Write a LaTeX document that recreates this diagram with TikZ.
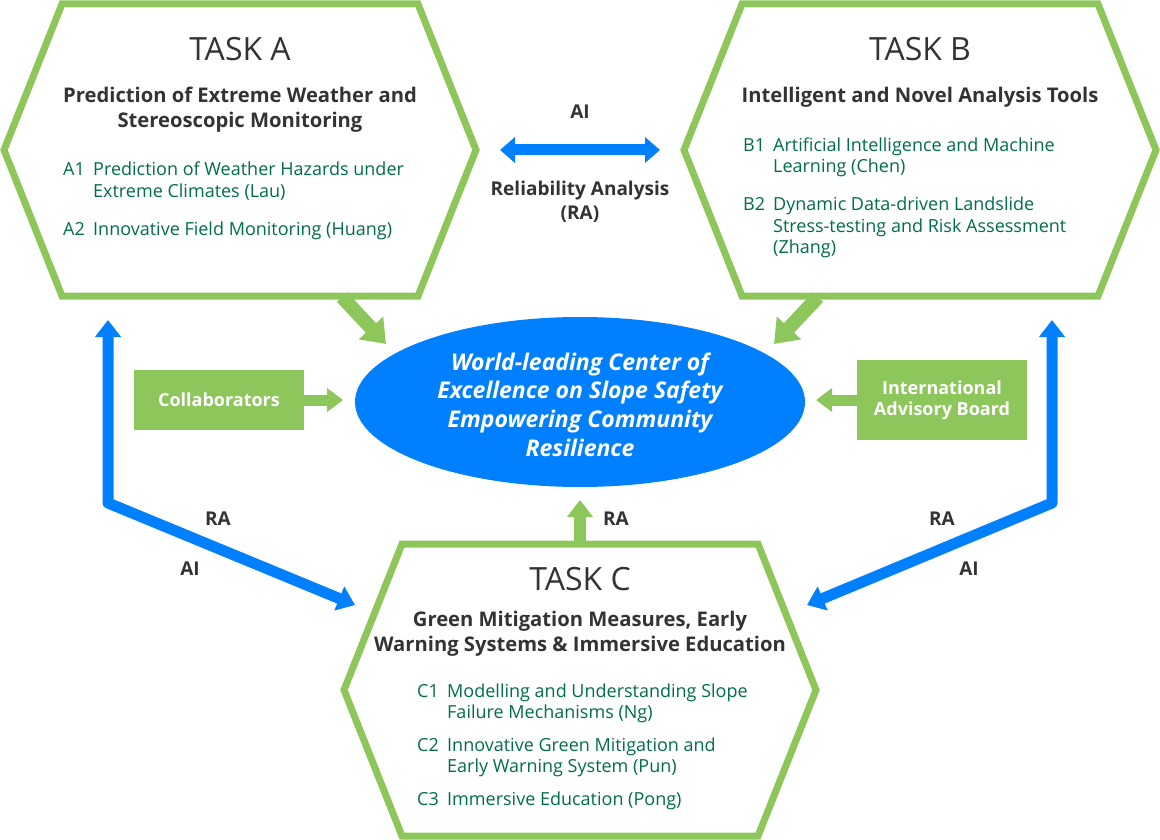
\documentclass[tikz,border=0pt]{standalone}
\usepackage{fontspec}
\setmainfont{Open Sans}
\usetikzlibrary{arrows.meta,shapes.geometric}
\definecolor{hexgreen}{HTML}{8DC65A}
\definecolor{myblue}{HTML}{0080FF}
\definecolor{darktext}{HTML}{333333}
\definecolor{itemgreen}{HTML}{006E47}
\begin{document}
\begin{tikzpicture}[x=1pt,y=-1pt,
  hexline/.style={draw=hexgreen, line width=7pt, line join=miter, miter limit=1.5},
  tasktitle/.style={anchor=base, text=darktext, inner sep=0, font=\fontsize{32}{38}\selectfont},
  subtitle/.style={anchor=base, text=darktext, inner sep=0, font=\bfseries\fontsize{20.2}{25}\selectfont},
  itemlabel/.style={anchor=base west, text=itemgreen, inner sep=0, font=\fontsize{18}{21}\selectfont},
  itemtext/.style={anchor=base west, text=itemgreen, inner sep=0, font=\fontsize{18}{21}\selectfont},
  midlabel/.style={anchor=base, text=darktext, inner sep=0, font=\bfseries\fontsize{19}{23}\selectfont},
  boxtext/.style={anchor=base, text=white, inner sep=0, font=\bfseries\fontsize{18}{21}\selectfont},
  greenbox/.style={fill=hexgreen, draw=none, inner sep=0},
  ellitext/.style={anchor=base, text=white, inner sep=0, font=\bfseries\itshape\fontsize{23}{29}\selectfont},
  bluearrow/.style={draw=myblue, line width=11pt, line join=round, {Triangle[length=17pt,width=25pt]}-{Triangle[length=17pt,width=25pt]}},
  greenarrow/.style={draw=hexgreen, line width=12pt, -{Triangle[length=17pt,width=25pt]}},
  greendiag/.style={draw=hexgreen, line width=14pt, -{Triangle[length=22pt,width=32pt]}}
]
\useasboundingbox (0,0) rectangle (1160,840);

% Hexagons
\draw[hexline] (62,4) -- (418,4) -- (476,150) -- (418,296) -- (62,296) -- (4,150) -- cycle;
\draw[hexline] (742,4) -- (1098,4) -- (1156,150) -- (1098,296) -- (742,296) -- (684,150) -- cycle;
\draw[hexline] (402,544) -- (758,544) -- (816,690) -- (758,836) -- (402,836) -- (344,690) -- cycle;

% Ellipse
\node[ellipse, fill=myblue, draw=none, minimum width=450pt, minimum height=170pt, inner sep=0] (ell) at (580,402) {};
\node[ellitext] (e1) at (580,370) {World-leading Center of};
\node[ellitext] (e2) at (580,398.5) {Excellence on Slope Safety};
\node[ellitext] (e3) at (580,427.5) {Empowering Community};
\node[ellitext] (e4) at (580,456.5) {Resilience};

% Task A
\node[tasktitle] (ta) at (240,61) {TASK A};
\node[subtitle] (sa1) at (240,103) {Prediction of Extreme Weather and};
\node[subtitle] (sa2) at (240,128) {Stereoscopic Monitoring};
\node[itemlabel] (a1l) at (63,176) {A1};
\node[itemtext] (a1a) at (93,176) {Prediction of Weather Hazards under};
\node[itemtext] (a1b) at (93,197) {Extreme Climates (Lau)};
\node[itemlabel] (a2l) at (63,235) {A2};
\node[itemtext] (a2a) at (93,235) {Innovative Field Monitoring (Huang)};

% Task B
\node[tasktitle] (tb) at (920,61) {TASK B};
\node[subtitle] (sb1) at (920,103) {Intelligent and Novel Analysis Tools};
\node[itemlabel] (b1l) at (743,151.5) {B1};
\node[itemtext] (b1a) at (773,151.5) {Artificial Intelligence and Machine};
\node[itemtext] (b1b) at (773,172.5) {Learning (Chen)};
\node[itemlabel] (b2l) at (743,210.5) {B2};
\node[itemtext] (b2a) at (773,210.5) {Dynamic Data-driven Landslide};
\node[itemtext] (b2b) at (773,232) {Stress-testing and Risk Assessment};
\node[itemtext] (b2c) at (773,253) {(Zhang)};

% Task C
\node[tasktitle] (tc) at (580,590.5) {TASK C};
\node[subtitle] (sc1) at (580,626.5) {Green Mitigation Measures, Early};
\node[subtitle] (sc2) at (580,651) {Warning Systems \& Immersive Education};
\node[itemlabel] (c1l) at (417,697) {C1};
\node[itemtext] (c1a) at (447,697) {Modelling and Understanding Slope};
\node[itemtext] (c1b) at (447,718) {Failure Mechanisms (Ng)};
\node[itemlabel] (c2l) at (417,751) {C2};
\node[itemtext] (c2a) at (447,751) {Innovative Green Mitigation and};
\node[itemtext] (c2b) at (447,772) {Early Warning System (Pun)};
\node[itemlabel] (c3l) at (417,805) {C3};
\node[itemtext] (c3a) at (447,805) {Immersive Education (Pong)};

% Middle AI / RA double arrow
\node[midlabel] (mai) at (580,119) {AI};
\coordinate (dl) at (500,150);
\coordinate (dr) at (660,150);
\draw[draw=myblue, line width=11pt, {Triangle[length=15pt,width=25pt]}-{Triangle[length=15pt,width=25pt]}] (dl) -- (dr);
\node[midlabel] (mra1) at (580,196) {Reliability Analysis};
\node[midlabel] (mra2) at (580,219) {(RA)};

% Side boxes
\node[greenbox, minimum width=170pt, minimum height=60pt] (collab) at (219,400) {};
\node[boxtext] (collabt) at (219,406) {Collaborators};
\node[greenbox, minimum width=170pt, minimum height=80pt] (iab) at (942,400) {};
\node[boxtext] (iab1) at (942,394) {International};
\node[boxtext] (iab2) at (942,415.5) {Advisory Board};
\coordinate (collabtip) at (343,400);
\coordinate (iabtip) at (816,400);
\draw[greenarrow, line width=11pt, -{Triangle[length=16pt,width=23pt]}] (collab.east) -- (collabtip);
\draw[greenarrow, line width=11pt, -{Triangle[length=16pt,width=23pt]}] (iab.west) -- (iabtip);

% Green diagonal arrows from A and B, and up arrow from C
\coordinate (astart) at (342,297);
\coordinate (atip) at (386,344);
\coordinate (bstart) at (818,297);
\coordinate (btip) at (774,344);
\draw[greendiag] (astart) -- (atip);
\draw[greendiag] (bstart) -- (btip);
\coordinate (cstart) at (580,545);
\coordinate (ctip) at (580,500);
\draw[greenarrow] (cstart) -- (ctip);
\node[midlabel] (cra) at (616,525) {RA};

% Blue L arrows
\coordinate (lt) at (108,320);
\coordinate (lc) at (108,503);
\coordinate (ld) at (355,605);
\draw[bluearrow] (lt) -- (lc) -- (ld);
\coordinate (rt) at (1052,320);
\coordinate (rc) at (1052,503);
\coordinate (rd) at (807,605);
\draw[bluearrow] (rt) -- (rc) -- (rd);
\node[midlabel] (lra) at (218,525) {RA};
\node[midlabel] (lai) at (190,575) {AI};
\node[midlabel] (rra) at (942,525) {RA};
\node[midlabel] (rai) at (969,575) {AI};
\end{tikzpicture}
\end{document}
